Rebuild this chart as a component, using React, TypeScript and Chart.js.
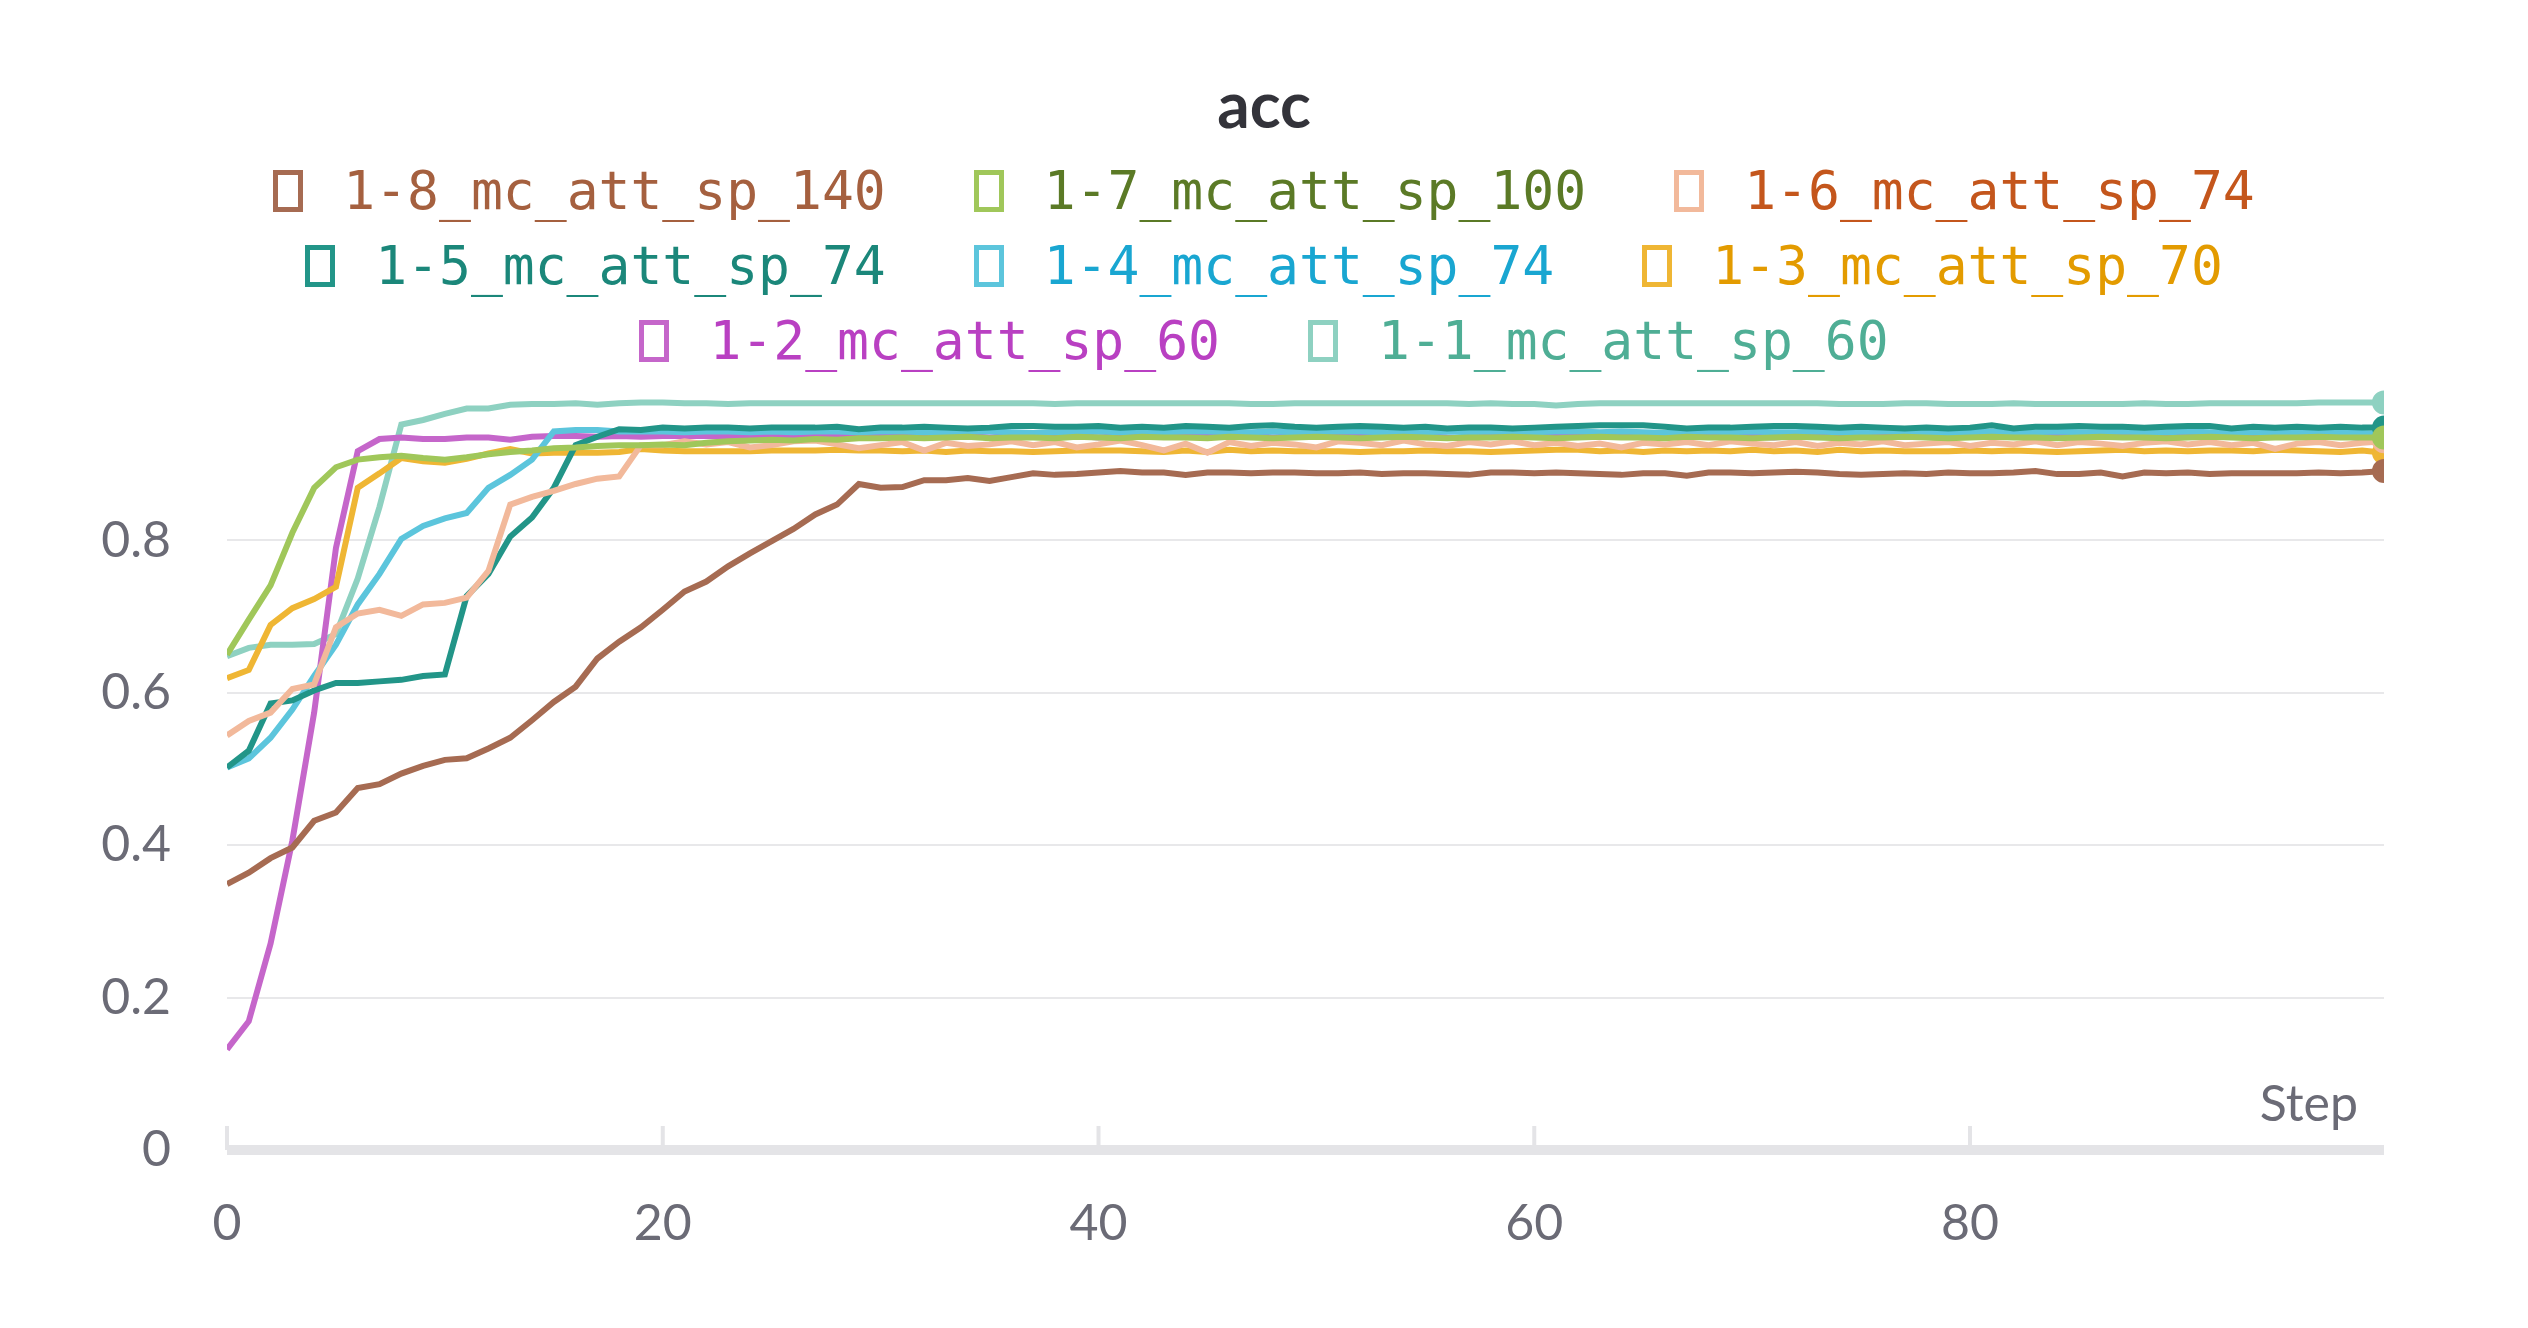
import { Chart, registerables } from "chart.js"
import React, { useEffect, useRef } from "react"

Chart.register(...registerables)

const steps = Array.from({ length: 100 }, (_, i) => i)

const run18 = [
  0.349, 0.364, 0.383, 0.397, 0.432, 0.443, 0.475, 0.48, 0.494, 0.504,
  0.512, 0.514, 0.527, 0.541, 0.564, 0.588, 0.608, 0.645, 0.667, 0.686,
  0.709, 0.733, 0.746, 0.766, 0.783, 0.799, 0.815, 0.834, 0.847, 0.874,
  0.869, 0.87, 0.879, 0.879, 0.882, 0.878, 0.883, 0.888, 0.886, 0.887,
  0.889, 0.891, 0.889, 0.889, 0.886, 0.889, 0.889, 0.888, 0.889, 0.889,
  0.888, 0.888, 0.889, 0.887, 0.888, 0.888, 0.887, 0.886, 0.889, 0.889,
  0.888, 0.889, 0.888, 0.887, 0.886, 0.888, 0.888, 0.885, 0.889, 0.889,
  0.888, 0.889, 0.89, 0.889, 0.887, 0.886, 0.887, 0.888, 0.887, 0.889,
  0.888, 0.888, 0.889, 0.891, 0.887, 0.887, 0.889, 0.884, 0.889, 0.888,
  0.889, 0.887, 0.888, 0.888, 0.888, 0.888, 0.889, 0.888, 0.889, 0.891,
]
const run17 = [
  0.65, 0.696, 0.741, 0.81, 0.869, 0.896, 0.906, 0.909, 0.911, 0.908,
  0.906, 0.909, 0.913, 0.916, 0.918, 0.921, 0.922, 0.924, 0.925, 0.925,
  0.926, 0.925, 0.928, 0.93, 0.931, 0.932, 0.931, 0.933, 0.932, 0.934,
  0.934, 0.935, 0.934, 0.935, 0.936, 0.934, 0.935, 0.935, 0.934, 0.936,
  0.935, 0.934, 0.936, 0.935, 0.935, 0.934, 0.936, 0.935, 0.934, 0.935,
  0.936, 0.935, 0.934, 0.935, 0.936, 0.935, 0.934, 0.935, 0.935, 0.936,
  0.935, 0.934, 0.935, 0.936, 0.935, 0.935, 0.934, 0.936, 0.935, 0.935,
  0.934, 0.935, 0.936, 0.935, 0.934, 0.935, 0.935, 0.936, 0.935, 0.934,
  0.935, 0.936, 0.935, 0.935, 0.934, 0.935, 0.936, 0.935, 0.935, 0.934,
  0.935, 0.936, 0.935, 0.934, 0.935, 0.935, 0.936, 0.935, 0.935, 0.935,
]
const run16 = [
  0.544, 0.563, 0.574, 0.605, 0.611, 0.686, 0.704, 0.709, 0.701, 0.716,
  0.718, 0.725, 0.76, 0.847, 0.857, 0.865, 0.874, 0.881, 0.884, 0.925,
  0.925, 0.93, 0.926, 0.929, 0.922, 0.925, 0.93, 0.931, 0.926, 0.921,
  0.925, 0.929, 0.918, 0.928, 0.924, 0.926, 0.93, 0.925, 0.929, 0.922,
  0.926, 0.931, 0.925, 0.918, 0.927, 0.915, 0.929, 0.924, 0.928, 0.926,
  0.922, 0.93, 0.928, 0.925, 0.931, 0.926, 0.924, 0.929, 0.926, 0.93,
  0.925, 0.928, 0.924, 0.927, 0.922, 0.928, 0.926, 0.929, 0.925, 0.93,
  0.927, 0.925, 0.929, 0.924, 0.928, 0.926, 0.93, 0.925, 0.927, 0.929,
  0.924, 0.928, 0.926, 0.93, 0.925, 0.929, 0.927, 0.924, 0.928, 0.93,
  0.926, 0.929, 0.925, 0.928, 0.92, 0.927, 0.929, 0.925, 0.928, 0.93,
]
const run15 = [
  0.502, 0.524, 0.586, 0.59, 0.603, 0.613, 0.613, 0.615, 0.617, 0.622,
  0.624, 0.727, 0.756, 0.805, 0.83, 0.869, 0.925, 0.936, 0.946, 0.945,
  0.948, 0.947, 0.948, 0.948, 0.947, 0.948, 0.948, 0.948, 0.949, 0.946,
  0.948, 0.948, 0.949, 0.948, 0.947, 0.948, 0.95, 0.95, 0.949, 0.949,
  0.95, 0.948, 0.949, 0.948, 0.95, 0.949, 0.948, 0.95, 0.951, 0.949,
  0.948, 0.949, 0.95, 0.949, 0.948, 0.949, 0.947, 0.948, 0.948, 0.947,
  0.948, 0.949, 0.95, 0.951, 0.951, 0.951, 0.949, 0.947, 0.948, 0.948,
  0.949, 0.95, 0.95, 0.949, 0.948, 0.949, 0.948, 0.947, 0.948, 0.947,
  0.948, 0.951, 0.947, 0.949, 0.949, 0.95, 0.949, 0.949, 0.948, 0.949,
  0.95, 0.95, 0.947, 0.949, 0.948, 0.949, 0.948, 0.949, 0.948, 0.948,
]
const run14 = [
  0.502, 0.514, 0.541, 0.578, 0.622, 0.663, 0.716, 0.756, 0.802, 0.819,
  0.829, 0.836, 0.869, 0.886, 0.906, 0.943, 0.945, 0.945, 0.943, 0.943,
  0.943, 0.942, 0.943, 0.943, 0.942, 0.943, 0.942, 0.943, 0.943, 0.942,
  0.943, 0.943, 0.942, 0.942, 0.943, 0.943, 0.942, 0.941, 0.942, 0.942,
  0.943, 0.942, 0.943, 0.942, 0.943, 0.943, 0.942, 0.942, 0.943, 0.942,
  0.942, 0.943, 0.943, 0.942, 0.941, 0.942, 0.943, 0.942, 0.943, 0.942,
  0.942, 0.943, 0.943, 0.942, 0.943, 0.942, 0.941, 0.942, 0.943, 0.942,
  0.943, 0.942, 0.942, 0.943, 0.942, 0.942, 0.943, 0.943, 0.942, 0.941,
  0.942, 0.943, 0.942, 0.942, 0.943, 0.942, 0.942, 0.943, 0.942, 0.942,
  0.943, 0.942, 0.941, 0.942, 0.942, 0.941, 0.942, 0.941, 0.941, 0.94,
]
const run13 = [
  0.619, 0.63, 0.689, 0.711, 0.723, 0.739, 0.869, 0.888, 0.908, 0.904,
  0.902, 0.907, 0.914, 0.92, 0.914, 0.915, 0.915, 0.915, 0.916, 0.92,
  0.918, 0.917, 0.917, 0.917, 0.917, 0.918, 0.918, 0.918, 0.919, 0.918,
  0.918, 0.917, 0.918, 0.916, 0.918, 0.917, 0.917, 0.916, 0.917, 0.918,
  0.918, 0.918, 0.917, 0.916, 0.918, 0.916, 0.919, 0.917, 0.918, 0.917,
  0.917, 0.917, 0.916, 0.917, 0.917, 0.918, 0.917, 0.917, 0.916, 0.917,
  0.918, 0.919, 0.919, 0.917, 0.918, 0.916, 0.918, 0.917, 0.918, 0.917,
  0.919, 0.917, 0.918, 0.916, 0.919, 0.917, 0.918, 0.917, 0.917, 0.917,
  0.918, 0.917, 0.918, 0.917, 0.916, 0.917, 0.918, 0.919, 0.917, 0.918,
  0.917, 0.918, 0.918, 0.917, 0.919, 0.918, 0.917, 0.916, 0.918, 0.915,
]
const run12 = [
  0.132, 0.169, 0.271, 0.406, 0.574, 0.79, 0.917, 0.933, 0.935, 0.933,
  0.933, 0.935, 0.935, 0.932, 0.936, 0.937, 0.937, 0.936, 0.937, 0.936,
  0.937, 0.937, 0.937, 0.936, 0.937, 0.938, 0.937, 0.937, 0.936, 0.937,
  0.937, 0.937, 0.936, 0.937, 0.937, 0.935, 0.937, 0.937, 0.937, 0.937,
  0.935, 0.937, 0.937, 0.937, 0.937, 0.937, 0.937, 0.938, 0.935, 0.937,
  0.936, 0.938, 0.937, 0.936, 0.936, 0.937, 0.935, 0.934, 0.937, 0.936,
  0.937, 0.937, 0.936, 0.937, 0.937, 0.936, 0.937, 0.938, 0.937, 0.937,
  0.936, 0.935, 0.937, 0.937, 0.937, 0.936, 0.937, 0.938, 0.937, 0.936,
  0.937, 0.937, 0.937, 0.936, 0.937, 0.937, 0.937, 0.936, 0.937, 0.937,
  0.937, 0.937, 0.937, 0.937, 0.937, 0.937, 0.937, 0.937, 0.934, 0.936,
]
const run11 = [
  0.648, 0.659, 0.663, 0.663, 0.664, 0.677, 0.75, 0.844, 0.952, 0.958,
  0.966, 0.973, 0.973, 0.978, 0.979, 0.979, 0.98, 0.978, 0.98, 0.981,
  0.981, 0.98, 0.98, 0.979, 0.98, 0.98, 0.98, 0.98, 0.98, 0.98,
  0.98, 0.98, 0.98, 0.98, 0.98, 0.98, 0.98, 0.98, 0.979, 0.98,
  0.98, 0.98, 0.98, 0.98, 0.98, 0.98, 0.98, 0.979, 0.979, 0.98,
  0.98, 0.98, 0.98, 0.98, 0.98, 0.98, 0.98, 0.979, 0.98, 0.979,
  0.979, 0.977, 0.979, 0.98, 0.98, 0.98, 0.98, 0.98, 0.98, 0.98,
  0.98, 0.98, 0.98, 0.98, 0.979, 0.979, 0.979, 0.98, 0.98, 0.979,
  0.979, 0.979, 0.98, 0.979, 0.979, 0.979, 0.979, 0.979, 0.98, 0.979,
  0.979, 0.98, 0.98, 0.98, 0.98, 0.98, 0.981, 0.981, 0.981, 0.981,
]

const runNames = [
  "1-8_mc_att_sp_140", "1-7_mc_att_sp_100", "1-6_mc_att_sp_74", "1-5_mc_att_sp_74",
  "1-4_mc_att_sp_74", "1-3_mc_att_sp_70", "1-2_mc_att_sp_60", "1-1_mc_att_sp_60",
]
const runValues = [run18, run17, run16, run15, run14, run13, run12, run11]
const lineColors = ["#a66b52", "#a0c75a", "#f2b99b", "#229588", "#5cc5dc", "#efb634", "#c566ca", "#8ed1c1"]
const textColors = ["#a5603f", "#5b7a26", "#c4561c", "#1b877a", "#19a6d1", "#e39b00", "#b940c2", "#4fae95"]
const legendRows = [[0, 1, 2], [3, 4, 5], [6, 7]]
const yTicks = [0, 0.2, 0.4, 0.6, 0.8]

const axisStyle = {
  id: "axisStyle",
  beforeDatasetsDraw(chart: Chart) {
    const { ctx, chartArea, scales } = chart
    const x = scales.x
    ctx.save()
    ctx.fillStyle = "#e4e4e7"
    ctx.fillRect(chartArea.left, chartArea.bottom - 5, chartArea.right - chartArea.left, 10)
    for (const v of [0, 20, 40, 60, 80]) {
      const px = x.getPixelForValue(v)
      ctx.fillRect(px - 2, chartArea.bottom - 24, 4, 24)
    }
    ctx.fillStyle = "#6b6b76"
    ctx.font = "50px Lato"
    ctx.textAlign = "right"
    ctx.textBaseline = "bottom"
    ctx.fillText("Step", chartArea.right - 26, chartArea.bottom - 20)
    ctx.restore()
  },
}

const App: React.FC = () => {
  const chartRef = useRef<HTMLCanvasElement>(null)
  const chartInstanceRef = useRef<Chart | null>(null)

  useEffect(() => {
    const ctx = chartRef.current?.getContext("2d")
    if (ctx) {
      chartInstanceRef.current = new Chart(ctx, {
        type: "line",
        data: {
          labels: steps,
          datasets: runNames.map((name, i) => ({
            label: name,
            data: runValues[i].map((v, j) => ({ x: steps[j], y: v })),
            borderColor: lineColors[i],
            backgroundColor: lineColors[i],
            borderWidth: 6,
            pointRadius: (c: any) => (c.dataIndex === runValues[i].length - 1 ? 9 : 0),
            pointHoverRadius: 0,
            tension: 0,
          })),
        },
        options: {
          animation: false,
          responsive: true,
          maintainAspectRatio: false,
          layout: { padding: { top: 29, right: 144, left: 0, bottom: 0 } },
          plugins: { legend: { display: false }, title: { display: false }, tooltip: { enabled: false } },
          scales: {
            x: {
              type: "linear",
              min: 0,
              max: 99,
              grid: { display: false },
              border: { display: false },
              afterFit: (s: any) => { s.height = 178 },
              ticks: {
                stepSize: 20,
                padding: 36,
                color: "#6b6b76",
                font: { family: "Lato", size: 50 },
                callback: (v: any) => (v % 20 === 0 && v <= 80 ? String(v) : ""),
              },
            },
            y: {
              min: 0,
              max: 1,
              afterFit: (s: any) => { s.width = 227 },
              border: { display: false },
              grid: {
                color: (c: any) => (c.tick.value > 0 && c.tick.value < 1 ? "#e8e8ea" : "rgba(0,0,0,0)"),
                lineWidth: 2,
                drawTicks: false,
              },
              ticks: {
                stepSize: 0.2,
                padding: 56,
                color: "#6b6b76",
                font: { family: "Lato", size: 50 },
                callback: (v: any) => (yTicks.includes(Math.round(v * 10) / 10) ? (v === 0 ? "0" : Number(v).toFixed(1)) : ""),
              },
            },
          },
        },
        plugins: [axisStyle],
      })
    }
    return () => {
      chartInstanceRef.current?.destroy()
    }
  }, [])

  return (
    <div style={{ position: "fixed", left: 0, top: 0, width: 2528, height: 1328, background: "#fff", fontFamily: "Lato" }}>
      <div style={{ position: "absolute", top: 68, width: "100%", textAlign: "center", fontSize: 64, fontWeight: 700, color: "#33333a", lineHeight: "72px" }}>
        acc
      </div>
      {legendRows.map((row, r) => (
        <div
          key={r}
          style={{ position: "absolute", top: 160 + r * 75, width: "100%", display: "flex", justifyContent: "center", gap: 88, fontFamily: "DejaVu Sans Mono", fontSize: 53, lineHeight: "62px" }}
        >
          {row.map((i) => (
            <div key={i} style={{ display: "flex", alignItems: "center", color: textColors[i] }}>
              <span style={{ display: "inline-block", width: 30, height: 42, border: `5px solid ${lineColors[i]}`, boxSizing: "border-box", marginRight: 40 }} />
              {runNames[i]}
            </div>
          ))}
        </div>
      ))}
      <div style={{ position: "absolute", left: 0, top: 302, width: 2528, height: 1026 }}>
        <canvas ref={chartRef} />
      </div>
    </div>
  )
}

export default App
